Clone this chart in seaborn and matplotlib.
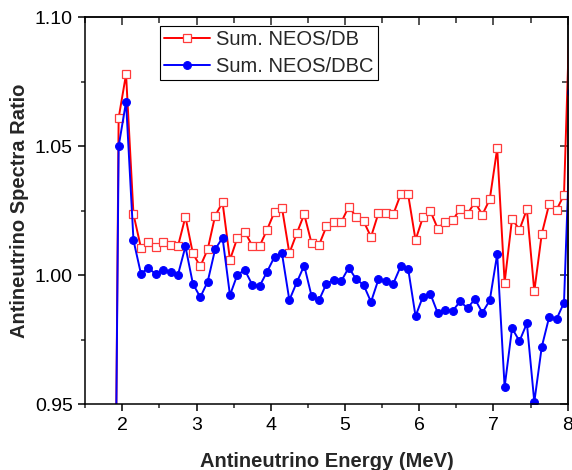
import matplotlib
matplotlib.use("Agg")
import matplotlib.pyplot as plt
from matplotlib.ticker import MultipleLocator, FormatStrFormatter
import seaborn as sns
import pandas as pd

energy = [1.85, 1.95, 2.05, 2.15, 2.25, 2.35, 2.45, 2.55, 2.65, 2.75, 2.85, 2.95,
          3.05, 3.15, 3.25, 3.35, 3.45, 3.55, 3.65, 3.75, 3.85, 3.95,
          4.05, 4.15, 4.25, 4.35, 4.45, 4.55, 4.65, 4.75, 4.85, 4.95,
          5.05, 5.15, 5.25, 5.35, 5.45, 5.55, 5.65, 5.75, 5.85, 5.95,
          6.05, 6.15, 6.25, 6.35, 6.45, 6.55, 6.65, 6.75, 6.85, 6.95,
          7.05, 7.15, 7.25, 7.35, 7.45, 7.55, 7.65, 7.75, 7.85, 7.95, 8.05]

neos_db = [0.700, 1.061, 1.078, 1.0237, 1.0108, 1.0130, 1.0110, 1.0130, 1.0118, 1.0114, 1.0227, 1.0085,
           1.0035, 1.0101, 1.0231, 1.0283, 1.0060, 1.0146, 1.0169, 1.0115, 1.0114, 1.0177,
           1.0246, 1.0263, 1.0086, 1.0163, 1.0237, 1.0124, 1.0118, 1.0190, 1.0206, 1.0206,
           1.0267, 1.0227, 1.0210, 1.0149, 1.0241, 1.0241, 1.0237, 1.0314, 1.0314, 1.0137,
           1.0226, 1.0249, 1.0181, 1.0208, 1.0213, 1.0258, 1.0238, 1.0284, 1.0235, 1.0295,
           1.0492, 0.9972, 1.0219, 1.0177, 1.0256, 0.9938, 1.0160, 1.0276, 1.0254, 1.0312, 1.123]

neos_dbc = [0.720, 1.050, 1.0673, 1.0136, 1.0007, 1.0028, 1.0005, 1.0022, 1.0012, 1.0003, 1.0112, 0.9968,
            0.9915, 0.9976, 1.0101, 1.0146, 0.9923, 1.0003, 1.0020, 0.9964, 0.9959, 1.0014,
            1.0072, 1.0086, 0.9904, 0.9973, 1.0038, 0.9919, 0.9904, 0.9968, 0.9982, 0.9978,
            1.0030, 0.9985, 0.9963, 0.9897, 0.9984, 0.9977, 0.9968, 1.0035, 1.0026, 0.9842,
            0.9918, 0.9928, 0.9853, 0.9867, 0.9862, 0.9899, 0.9873, 0.9908, 0.9855, 0.9903,
            1.0082, 0.9567, 0.9795, 0.9745, 0.9814, 0.9509, 0.9722, 0.9838, 0.9831, 0.9894, 1.071]

labels = ["Sum. NEOS/DB", "Sum. NEOS/DBC"]
x_ticks = [2, 3, 4, 5, 6, 7, 8]
y_ticks = [0.95, 1.00, 1.05, 1.10]

sns.set_style("ticks")
plt.rcParams["font.family"] = ["Liberation Sans", "DejaVu Sans"]

df = pd.DataFrame({"E": energy, "DB": neos_db, "DBC": neos_dbc})

fig = plt.figure(figsize=(5.72, 4.70), dpi=100)
ax = fig.add_axes([0.149, 0.1398, 0.8435, 0.823])

sns.lineplot(data=df, x="E", y="DB", ax=ax, color="#ff0000", linewidth=1.4,
             marker="s", markersize=5.4, markerfacecolor="white",
             markeredgecolor="#ff3b3b", markeredgewidth=0.9, label=labels[0])
sns.lineplot(data=df, x="E", y="DBC", ax=ax, color="#0000ff", linewidth=1.4,
             marker="o", markersize=5.6, markerfacecolor="#0000ff",
             markeredgecolor="#0000ff", markeredgewidth=0.8, label=labels[1])

ax.set_xlim(1.5, 8.0)
ax.set_ylim(0.95, 1.10)
ax.set_xticks(x_ticks)
ax.set_yticks(y_ticks)
ax.xaxis.set_minor_locator(MultipleLocator(0.5))
ax.yaxis.set_minor_locator(MultipleLocator(0.025))
ax.yaxis.set_major_formatter(FormatStrFormatter("%.2f"))

for s in ax.spines.values():
    s.set_visible(True)
    s.set_linewidth(1.1)
    s.set_color("black")

ax.tick_params(axis="both", which="major", direction="out", length=5, width=1.1,
               labelsize=14, pad=4, colors="black")
ax.tick_params(axis="both", which="minor", direction="out", length=3, width=1.1)

# mirrored inward ticks on top and right
top = ax.secondary_xaxis("top")
top.set_xticks(x_ticks)
top.xaxis.set_minor_locator(MultipleLocator(0.5))
top.tick_params(axis="x", which="major", direction="in", length=6, width=1.1, labeltop=False)
top.tick_params(axis="x", which="minor", direction="in", length=4, width=1.1)
top.spines["top"].set_linewidth(1.1)

right = ax.secondary_yaxis("right")
right.set_yticks(y_ticks)
right.yaxis.set_minor_locator(MultipleLocator(0.025))
right.tick_params(axis="y", which="major", direction="in", length=6, width=1.1, labelright=False)
right.tick_params(axis="y", which="minor", direction="in", length=4, width=1.1)
right.spines["right"].set_linewidth(1.1)

ax.set_xlabel("Antineutrino Energy (MeV)", fontsize=14.5, fontweight="bold", labelpad=13)
ax.set_ylabel("Antineutrino Spectra Ratio", fontsize=14.5, fontweight="bold", labelpad=4)

leg = ax.legend(loc="upper left", bbox_to_anchor=(0.155, 0.977), borderaxespad=0,
                fontsize=14.5, frameon=True, fancybox=False, edgecolor="black",
                handlelength=2.3, handletextpad=0.3, borderpad=0.2,
                labelspacing=0.4, numpoints=1)
leg.get_frame().set_linewidth(0.8)
leg.get_frame().set_alpha(1)

fig.savefig("out.png", dpi=100)
